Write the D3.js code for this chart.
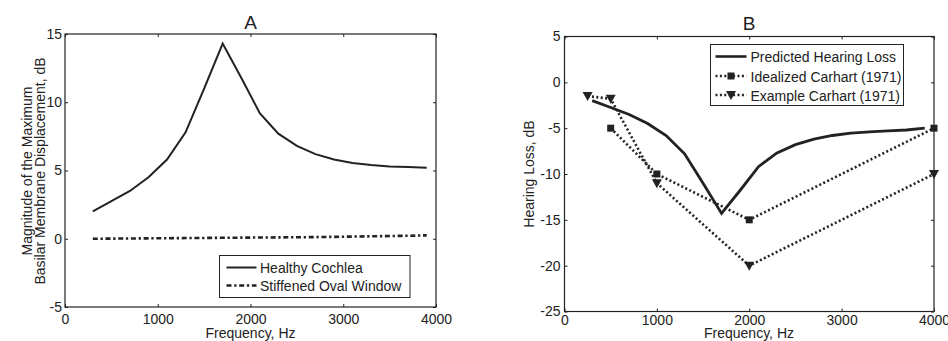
<!DOCTYPE html>
<html>
<head>
<meta charset="utf-8">
<script src="https://cdn.jsdelivr.net/npm/d3@7"></script>
<style>
  body { margin: 0; background: #fff; }
  svg { display: block; font-family: "Liberation Sans", Arial, sans-serif; }
  .tick text { font-size: 14px; fill: #222; }
  .tick line { stroke: #222; }
</style>
</head>
<body>
<svg id="chart" width="948" height="341"></svg>
<script>
// Panel A - frequency (Hz) and magnitude (dB)
var freqA = [300, 500, 700, 900, 1100, 1300, 1500, 1700, 1900, 2100, 2300, 2500, 2700, 2900, 3100, 3300, 3500, 3700, 3900];
var healthy = [2.0, 2.75, 3.5, 4.5, 5.8, 7.8, 11.0, 14.3, 11.8, 9.2, 7.7, 6.8, 6.2, 5.8, 5.55, 5.4, 5.3, 5.25, 5.2];
var stiffened = [0.0, 0.01, 0.02, 0.03, 0.04, 0.05, 0.06, 0.07, 0.08, 0.09, 0.1, 0.11, 0.12, 0.14, 0.16, 0.18, 0.2, 0.22, 0.25];

// Panel B - hearing loss (dB)
var predicted = [-2.0, -2.75, -3.5, -4.5, -5.8, -7.8, -11.0, -14.3, -11.8, -9.2, -7.7, -6.8, -6.2, -5.8, -5.55, -5.4, -5.3, -5.2, -5.0];
var idealFreq = [500, 1000, 2000, 4000];
var idealLoss = [-5, -10, -15, -5];
var exampleFreq = [250, 500, 1000, 2000, 4000];
var exampleLoss = [-1.5, -1.8, -11, -20, -10];

var xTicks = [0, 1000, 2000, 3000, 4000];
var yTicksA = [-5, 0, 5, 10, 15];
var yTicksB = [-25, -20, -15, -10, -5, 0, 5];

var ink = '#222';
var dashDot = '5,2.7,2.3,2.7';
var dotted = '2,2.4';
var svg = d3.select('#chart');

// plain numbers with an ascii minus, like the original
var fmt = function (d) { return String(d); };

function frame(g, x, y, yTicks, xPad, yPad) {
    var x0 = x.range()[0], x1 = x.range()[1];
    var y0 = y.range()[0], y1 = y.range()[1];

    g.append('g')
        .attr('transform', 'translate(0,' + y0 + ')')
        .call(d3.axisBottom(x).tickValues(xTicks).tickSize(-3).tickPadding(xPad).tickFormat(fmt))
        .call(function (s) { s.select('.domain').remove(); });
    g.append('g')
        .attr('transform', 'translate(0,' + y1 + ')')
        .call(d3.axisTop(x).tickValues(xTicks).tickSize(-3).tickFormat(''))
        .call(function (s) { s.select('.domain').remove(); });
    g.append('g')
        .attr('transform', 'translate(' + x0 + ',0)')
        .call(d3.axisLeft(y).tickValues(yTicks).tickSize(-3).tickPadding(yPad).tickFormat(fmt))
        .call(function (s) { s.select('.domain').remove(); });
    g.append('g')
        .attr('transform', 'translate(' + x1 + ',0)')
        .call(d3.axisRight(y).tickValues(yTicks).tickSize(-3).tickFormat(''))
        .call(function (s) { s.select('.domain').remove(); });

    g.append('rect')
        .attr('x', x0).attr('y', y1)
        .attr('width', x1 - x0).attr('height', y0 - y1)
        .attr('fill', 'none').attr('stroke', ink).attr('stroke-width', 1.2);
}

function text(g, x, y, str, size, anchor, rotate) {
    var t = g.append('text')
        .attr('x', x).attr('y', y)
        .attr('text-anchor', anchor || 'middle')
        .style('font-size', size + 'px')
        .attr('fill', ink)
        .text(str);
    if (rotate) {
        t.attr('transform', 'rotate(-90,' + x + ',' + y + ')');
    }
    return t;
}

function triangle(g, cx, cy) {
    g.append('path')
        .attr('d', 'M' + (cx - 5) + ',' + (cy - 4) + 'L' + (cx + 5) + ',' + (cy - 4) + 'L' + cx + ',' + (cy + 5) + 'Z')
        .attr('fill', ink);
}

function square(g, cx, cy) {
    g.append('rect')
        .attr('x', cx - 3.5).attr('y', cy - 3.5)
        .attr('width', 7).attr('height', 7)
        .attr('fill', ink);
}

// ---------------- Panel A ----------------
var xA = d3.scaleLinear().domain([0, 4000]).range([65, 436]);
var yA = d3.scaleLinear().domain([-5, 15]).range([307, 34]);
var gA = svg.append('g');

frame(gA, xA, yA, yTicksA, 7, 3);

var lineA = d3.line()
    .x(function (d) { return xA(d[0]); })
    .y(function (d) { return yA(d[1]); });

gA.append('path')
    .datum(d3.zip(freqA, healthy))
    .attr('d', lineA)
    .attr('fill', 'none').attr('stroke', ink).attr('stroke-width', 2);

gA.append('path')
    .datum(d3.zip(freqA, stiffened))
    .attr('d', lineA)
    .attr('fill', 'none').attr('stroke', ink).attr('stroke-width', 2.6)
    .attr('stroke-dasharray', dashDot);

text(gA, 250.5, 28.5, 'A', 19);
text(gA, 250.5, 338, 'Frequency, Hz', 14);
text(gA, 31.5, 171, 'Magnitude of the Maximum', 14, 'middle', true);
text(gA, 44.5, 171, 'Basilar Membrane Displacement, dB', 14, 'middle', true);

// legend A
gA.append('rect')
    .attr('x', 219.5).attr('y', 255.5).attr('width', 190.5).attr('height', 42)
    .attr('fill', '#fff').attr('stroke', ink);
gA.append('line')
    .attr('x1', 226.5).attr('x2', 256.5).attr('y1', 267.5).attr('y2', 267.5)
    .attr('stroke', ink).attr('stroke-width', 2);
gA.append('line')
    .attr('x1', 226.5).attr('x2', 256.5).attr('y1', 285.5).attr('y2', 285.5)
    .attr('stroke', ink).attr('stroke-width', 2.6).attr('stroke-dasharray', dashDot);
text(gA, 260, 272.5, 'Healthy Cochlea', 14, 'start');
text(gA, 260, 290.5, 'Stiffened Oval Window', 14, 'start');

// ---------------- Panel B ----------------
var xB = d3.scaleLinear().domain([0, 4000]).range([564.5, 934]);
var yB = d3.scaleLinear().domain([-25, 5]).range([311.5, 36.5]);
var gB = svg.append('g');

frame(gB, xB, yB, yTicksB, 3.5, 4);

var lineB = d3.line()
    .x(function (d) { return xB(d[0]); })
    .y(function (d) { return yB(d[1]); });

gB.append('path')
    .datum(d3.zip(freqA, predicted))
    .attr('d', lineB)
    .attr('fill', 'none').attr('stroke', ink).attr('stroke-width', 2.8);

gB.append('path')
    .datum(d3.zip(idealFreq, idealLoss))
    .attr('d', lineB)
    .attr('fill', 'none').attr('stroke', ink).attr('stroke-width', 2.6)
    .attr('stroke-dasharray', dotted);

gB.append('path')
    .datum(d3.zip(exampleFreq, exampleLoss))
    .attr('d', lineB)
    .attr('fill', 'none').attr('stroke', ink).attr('stroke-width', 2.6)
    .attr('stroke-dasharray', dotted);

idealFreq.forEach(function (f, i) { square(gB, xB(f), yB(idealLoss[i])); });
exampleFreq.forEach(function (f, i) { triangle(gB, xB(f), yB(exampleLoss[i])); });

text(gB, 749, 30, 'B', 19);
text(gB, 749, 337.5, 'Frequency, Hz', 14);
text(gB, 534, 174, 'Hearing Loss, dB', 14, 'middle', true);

// legend B
gB.append('rect')
    .attr('x', 710.5).attr('y', 44.5).attr('width', 193).attr('height', 61)
    .attr('fill', '#fff').attr('stroke', ink);
var legB = [
    { y: 56.5, base: 62, label: 'Predicted Hearing Loss', dash: null, mark: null },
    { y: 76, base: 81.5, label: 'Idealized Carhart (1971)', dash: dotted, mark: square },
    { y: 95, base: 100.5, label: 'Example Carhart (1971)', dash: dotted, mark: triangle }
];
legB.forEach(function (d) {
    var l = gB.append('line')
        .attr('x1', 715.5).attr('x2', 746.5).attr('y1', d.y).attr('y2', d.y)
        .attr('stroke', ink).attr('stroke-width', 2.6);
    if (d.dash) { l.attr('stroke-dasharray', d.dash); }
    if (d.mark) { d.mark(gB, 731, d.y); }
    text(gB, 750.5, d.base, d.label, 14, 'start');
});
</script>
</body>
</html>
